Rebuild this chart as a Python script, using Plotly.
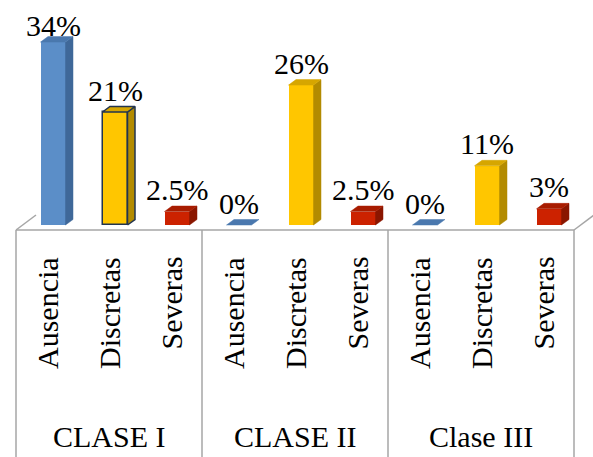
import plotly.graph_objects as go

# ---------------- data ----------------
groups = ["CLASE I", "CLASE II", "Clase III"]
levels = ["Ausencia", "Discretas", "Severas"]
values = [34, 21, 2.5, 0, 26, 2.5, 0, 11, 3]
value_labels = ["34%", "21%", "2.5%", "0%", "26%", "2.5%", "0%", "11%", "3%"]

front_colors = ["#5b8ec8", "#ffc600", "#cc2200"]
side_colors = ["#3f6899", "#b38b00", "#8a1600"]
top_colors = ["#4a78ae", "#d6a600", "#a81c00"]
outlined = [False, True, False, False, False, False, False, False, False]

# ---------------- geometry (pixel based scale) ----------------
W, H = 593, 457
PX_X = 62.0        # px per category
PX_Y = 5.38        # px per percent
X0_PX = 47.0       # px of first category centre
Y0_PX = 225.0      # px of value 0
x_range = [-X0_PX / PX_X, (W - X0_PX) / PX_X]
y_range = [-(H - Y0_PX) / PX_Y, Y0_PX / PX_Y]

bar_off = 6 / PX_X
bar_w = 25 / PX_X
dx = 7.5 / PX_X
dy = 5.5 / PX_Y
floor_v = -5 / PX_Y
FONT = "Liberation Serif"
GRID = "#a6a6a6"

n = len(values)
cats = [f"{groups[i // 3]} - {levels[i % 3]}" for i in range(n)]
xs = [i + bar_off for i in range(n)]

fig = go.Figure()

# front faces
fig.add_trace(go.Bar(
    x=xs, y=values, width=[bar_w] * n, base=0,
    marker=dict(color=[front_colors[i % 3] for i in range(n)],
                line=dict(color=["#22344f" if o else "rgba(0,0,0,0)" for o in outlined],
                          width=[1.5 if o else 0 for o in outlined])),
    hoverinfo="skip", showlegend=False, customdata=cats,
))

# side and top faces
for i, v in enumerate(values):
    xl = xs[i] - bar_w / 2
    xr = xs[i] + bar_w / 2
    lc = "#22344f" if outlined[i] else None
    lw = 1.5 if outlined[i] else 0.5
    if v > 0:
        fig.add_trace(go.Scatter(
            x=[xr, xr + dx, xr + dx, xr, xr],
            y=[0, dy, v + dy, v, 0],
            mode="lines", fill="toself", fillcolor=side_colors[i % 3],
            line=dict(color=lc or side_colors[i % 3], width=lw),
            hoverinfo="skip", showlegend=False))
    fig.add_trace(go.Scatter(
        x=[xl, xl + dx, xr + dx, xr, xl],
        y=[v, v + dy, v + dy, v, v],
        mode="lines", fill="toself", fillcolor=top_colors[i % 3],
        line=dict(color=lc or top_colors[i % 3], width=lw),
        hoverinfo="skip", showlegend=False))

# frame lines (floor box)
shapes = []
shapes.append(dict(type="line", xref="x", yref="y", x0=-0.5, x1=n - 0.5,
                   y0=floor_v, y1=floor_v, line=dict(color=GRID, width=1.5)))
for k in range(len(groups) + 1):
    xv = -0.5 + 3 * k
    shapes.append(dict(type="line", xref="x", yref="y", x0=xv, x1=xv,
                       y0=floor_v, y1=y_range[0], line=dict(color=GRID, width=1.5)))
for xv in (-0.5, n - 0.5):
    shapes.append(dict(type="line", xref="x", yref="y", x0=xv, x1=xv + 20 / PX_X,
                       y0=floor_v, y1=floor_v + 15 / PX_Y, line=dict(color=GRID, width=1.5)))

annotations = []
# value labels
label_cap = (Y0_PX - 25) / PX_Y
for i, v in enumerate(values):
    yl = min(v + dy + 16.5 / PX_Y, label_cap)
    annotations.append(dict(x=xs[i], y=yl, xref="x", yref="y", text=value_labels[i],
                            showarrow=False, xanchor="center", yanchor="middle",
                            font=dict(family=FONT, size=30, color="black")))
# category labels
for i in range(n):
    annotations.append(dict(x=i, y=(Y0_PX - 255) / PX_Y, xref="x", yref="y",
                            text=levels[i % 3], textangle=-90, showarrow=False,
                            xanchor="center", yanchor="top",
                            font=dict(family=FONT, size=30, color="black")))
# group labels
for g, name in enumerate(groups):
    annotations.append(dict(x=3 * g + 1, y=(Y0_PX - 436) / PX_Y, xref="x", yref="y",
                            text=name, showarrow=False, xanchor="center", yanchor="middle",
                            font=dict(family=FONT, size=30, color="black")))

fig.update_layout(
    width=W, height=H,
    margin=dict(l=0, r=0, t=0, b=0),
    paper_bgcolor="white", plot_bgcolor="white",
    xaxis=dict(range=x_range, visible=False, showgrid=False, zeroline=False, fixedrange=True),
    yaxis=dict(range=y_range, visible=False, showgrid=False, zeroline=False, fixedrange=True),
    shapes=shapes, annotations=annotations,
    bargap=0, showlegend=False, hovermode=False,
)

fig.write_html("out.html", config={"displayModeBar": False})
